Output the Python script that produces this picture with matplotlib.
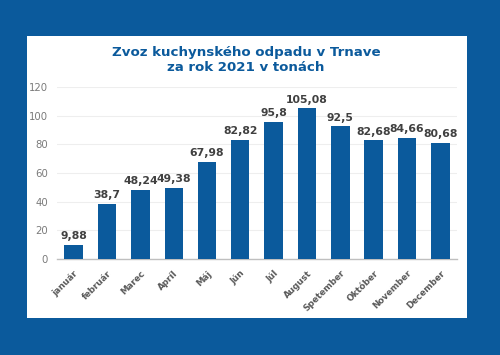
import matplotlib
matplotlib.use("Agg")
import matplotlib.pyplot as plt
from matplotlib.patches import Rectangle
import matplotlib.transforms as mtransforms

months = ["január", "február", "Marec", "Apríl", "Máj", "Jún", "Júl",
          "August", "Spetember", "Október", "November", "December"]
values = [9.88, 38.7, 48.24, 49.38, 67.98, 82.82, 95.8, 105.08, 92.5, 82.68, 84.66, 80.68]
labels = ["9,88", "38,7", "48,24", "49,38", "67,98", "82,82", "95,8",
          "105,08", "92,5", "82,68", "84,66", "80,68"]
yticks = [0, 20, 40, 60, 80, 100, 120]
title = "Zvoz kuchynského odpadu v Trnave\nza rok 2021 v tonách"

BLUE = "#0b5a9c"
fig = plt.figure(figsize=(5, 3.55), dpi=100)
fig.patch.set_facecolor(BLUE)
# white panel
fig.patches.append(Rectangle((27/500, 1-318/355), (467-27)/500, (318-36)/355,
                             transform=fig.transFigure, facecolor="white",
                             edgecolor="none", zorder=-10))

ax = fig.add_axes([57/500, 1-259/355, 400/500, (259-87)/355])
ax.set_facecolor("none")
ax.set_zorder(5)
x = range(len(months))
bars = ax.bar(x, values, width=0.55, color=BLUE, zorder=3)
for xi, v, lab in zip(x, values, labels):
    ax.text(xi, v + 2.7, lab, ha="center", va="bottom", fontsize=7.8,
            fontweight="bold", color="#404040")
ax.set_xlim(-0.5, 11.5)
ax.set_ylim(0, 120)
ax.set_yticks(yticks)
ax.set_yticklabels([str(t) for t in yticks], fontsize=7.3, color="#7a7a7a")
ax.set_xticks(list(x))
ax.set_xticklabels(months, rotation=45, ha="right", rotation_mode="anchor",
                   fontsize=6.3, fontweight="bold", color="#595959")
offset = mtransforms.ScaledTranslation(4/100, 0, fig.dpi_scale_trans)
for t in ax.get_xticklabels():
    t.set_transform(t.get_transform() + offset)
ax.tick_params(axis="y", length=0, pad=6.5)
ax.tick_params(axis="x", length=0, pad=7)
ax.grid(axis="y", color="#eeeeee", linewidth=0.8, zorder=0)
for s in ["top", "right", "left"]:
    ax.spines[s].set_visible(False)
ax.spines["bottom"].set_color("#bfbfbf")
ax.spines["bottom"].set_linewidth(1.0)

fig.text(246/500, 1-60/355, title, ha="center", va="center", fontsize=9.6,
         fontweight="bold", color=BLUE, linespacing=1.15, zorder=6)

fig.savefig("out.png", dpi=100)
